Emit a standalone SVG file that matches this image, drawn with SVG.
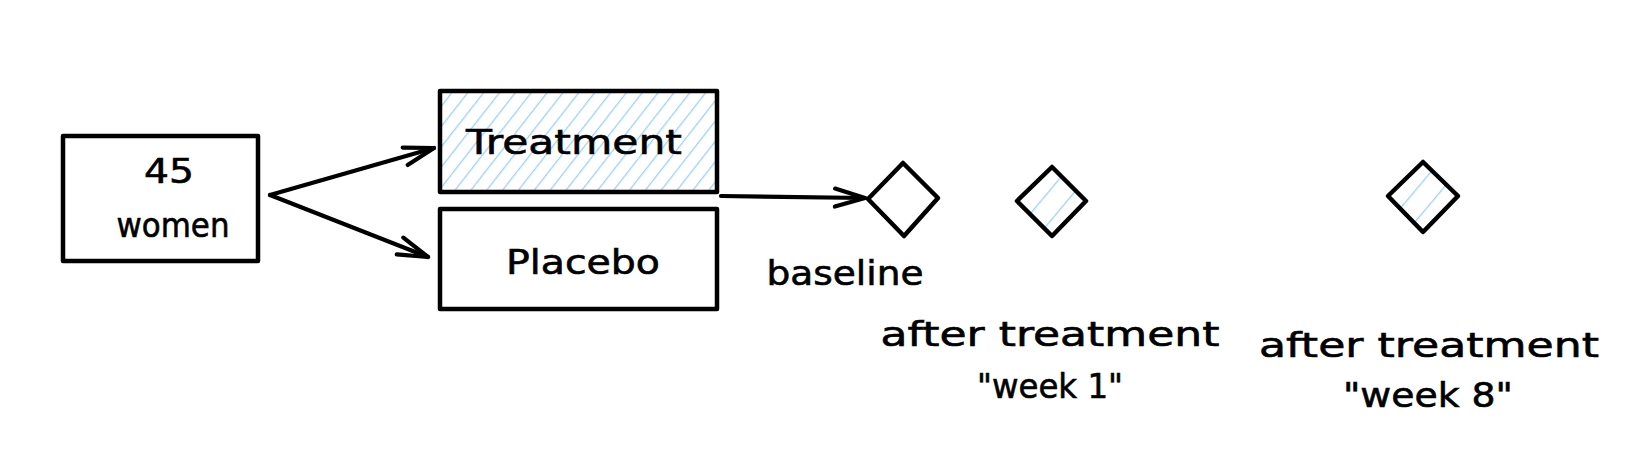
<svg xmlns="http://www.w3.org/2000/svg" width="1636" height="470" viewBox="0 0 1636 470">
  <defs>
    <pattern id="hatch" patternUnits="userSpaceOnUse" width="12.5" height="12.5" patternTransform="rotate(38)">
      <line x1="0" y1="0" x2="0" y2="12.5" stroke="#9fd0fa" stroke-width="2.6"/>
    </pattern>
    <pattern id="hatchWide" patternUnits="userSpaceOnUse" width="20" height="20" patternTransform="rotate(40) translate(6 0)">
      <line x1="0" y1="0" x2="0" y2="20" stroke="#9fd0fa" stroke-width="2.6"/>
    </pattern>
    <marker id="arrow" markerUnits="userSpaceOnUse" viewBox="-34 -14 38 28" refX="0" refY="0" markerWidth="38" markerHeight="28" orient="auto">
      <path d="M -30 -9 L 0 0 L -30 9" fill="none" stroke="#000" stroke-width="4.2" stroke-linecap="round" stroke-linejoin="round"/>
    </marker>
  </defs>
  <style>
    .box { fill: #fff; stroke: #000; stroke-width: 4.5; stroke-linejoin: round; }
    .hbox { fill: url(#hatch); stroke: #000; stroke-width: 4.5; stroke-linejoin: round; }
    .dia { fill: #fff; stroke: #000; stroke-width: 4.5; stroke-linejoin: round; }
    .hdia { fill: url(#hatchWide); stroke: #000; stroke-width: 4.5; stroke-linejoin: round; }
    .conn { fill: none; stroke: #000; stroke-width: 4.2; stroke-linecap: round; }
    text { font-family: "DejaVu Sans", sans-serif; font-size: 34px; fill: #000; stroke: #000; stroke-width: 0.6; text-anchor: middle; }
  </style>
  <rect width="1636" height="470" fill="#fff"/>

  <g id="women">
    <rect class="box" x="63" y="136" width="195" height="125"/>
    <text x="169" y="183" textLength="50" lengthAdjust="spacingAndGlyphs">45</text>
    <text x="173" y="237" textLength="113" lengthAdjust="spacingAndGlyphs">women</text>
  </g>

  <g id="treatment">
    <rect class="hbox" x="440" y="91" width="277" height="101"/>
    <text x="574" y="154" textLength="216" lengthAdjust="spacingAndGlyphs">Treatment</text>
  </g>

  <g id="placebo">
    <rect class="box" x="440" y="209" width="277" height="100"/>
    <text x="583" y="274" textLength="154" lengthAdjust="spacingAndGlyphs">Placebo</text>
  </g>

  <g id="baseline">
    <polygon class="dia" points="868,199 903,163 938,198 904,236"/>
    <text x="845" y="285" textLength="157" lengthAdjust="spacingAndGlyphs">baseline</text>
  </g>

  <g id="week1">
    <polygon class="hdia" points="1017,201 1052,167 1086,201 1052,236"/>
    <text x="1050" y="346" textLength="339" lengthAdjust="spacingAndGlyphs">after treatment</text>
    <text x="1050" y="398" textLength="146" lengthAdjust="spacingAndGlyphs">"week 1"</text>
  </g>

  <g id="week8">
    <polygon class="hdia" points="1388,196 1423,162 1458,196 1423,232"/>
    <text x="1429" y="357" textLength="340" lengthAdjust="spacingAndGlyphs">after treatment</text>
    <text x="1428" y="407" textLength="170" lengthAdjust="spacingAndGlyphs">"week 8"</text>
  </g>

  <g id="connectors">
    <line class="conn" x1="270" y1="195" x2="434" y2="148" marker-end="url(#arrow)"/>
    <line class="conn" x1="270" y1="195" x2="428" y2="257" marker-end="url(#arrow)"/>
    <line class="conn" x1="721" y1="196" x2="865" y2="198" marker-end="url(#arrow)"/>
  </g>
</svg>
